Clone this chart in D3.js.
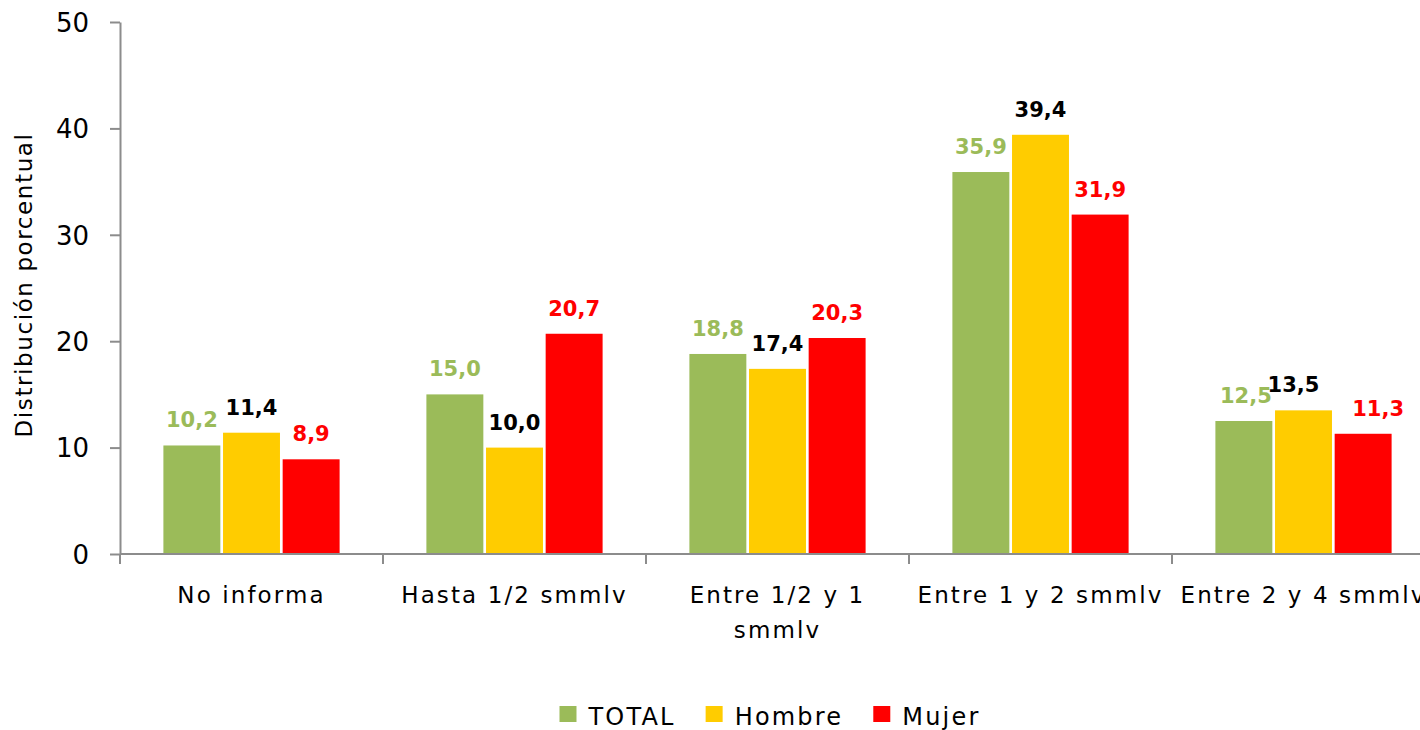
<!DOCTYPE html>
<html>
<head>
<meta charset="utf-8">
<script src="https://cdn.jsdelivr.net/npm/d3@7"></script>
<style>
  body { margin: 0; background: #fff; }
  svg { display: block; overflow: hidden; }
  text { font-family: "DejaVu Sans", Verdana, sans-serif; }
</style>
</head>
<body>
<div id="chart"></div>
<script>
// data
var categories = ["No informa", "Hasta 1/2 smmlv", "Entre 1/2 y 1 smmlv", "Entre 1 y 2 smmlv", "Entre 2 y 4 smmlv"];
var seriesNames = ["TOTAL", "Hombre", "Mujer"];
var totalValues = [10.2, 15.0, 18.8, 35.9, 12.5];
var hombreValues = [11.4, 10.0, 17.4, 39.4, 13.5];
var mujerValues = [8.9, 20.7, 20.3, 31.9, 11.3];
var yTicks = [0, 10, 20, 30, 40, 50];

var barColors = ["#9BBB59", "#FFCC00", "#FF0000"];
var labelColors = ["#9BBB59", "#000000", "#FF0000"];

var W = 1420, H = 730;
var plotLeft = 120, plotTop = 22, plotBottom = 554;
var step = 263;

var svg = d3.select("#chart")
    .append("svg")
    .attr("width", W)
    .attr("height", H);

var values = [totalValues, hombreValues, mujerValues];

// category scale: outer padding is half the inner one so band edges land on the ticks
var x = d3.scaleBand()
    .domain(categories)
    .range([plotLeft, plotLeft + step * categories.length])
    .paddingInner(0.33)
    .paddingOuter(0.165);

var xs = d3.scaleBand()
    .domain(seriesNames)
    .range([0, x.bandwidth()])
    .paddingInner(0.045);

var y = d3.scaleLinear()
    .domain([0, 50])
    .range([plotBottom, plotTop]);

// Y axis
var yAxis = svg.append("g")
    .attr("transform", "translate(" + plotLeft + ",0)")
    .call(d3.axisLeft(y).tickValues(yTicks).tickSize(10).tickPadding(21).tickSizeOuter(0));
yAxis.select(".domain").attr("stroke", "#8c8c8c").attr("stroke-width", 2);
yAxis.selectAll(".tick line").attr("stroke", "#8c8c8c").attr("stroke-width", 2);
yAxis.selectAll(".tick text")
    .attr("fill", "#000")
    .style("font-size", "26px")
    .attr("dy", "0.36em");

// Y axis title
svg.append("text")
    .attr("transform", "translate(32," + 285 + ") rotate(-90)")
    .attr("text-anchor", "middle")
    .style("font-size", "23px")
    .style("letter-spacing", "1.6px")
    .attr("fill", "#000")
    .text("Distribución porcentual");

// bars
var groups = svg.selectAll(".group")
    .data(categories)
    .enter()
    .append("g")
    .attr("class", "group")
    .attr("transform", function (c) { return "translate(" + x(c) + ",0)"; });

function rows(c, i) {
    return seriesNames.map(function (s, j) { return { s: s, j: j, i: i, v: values[j][i] }; });
}

groups.selectAll("rect")
    .data(rows)
    .enter()
    .append("rect")
    .attr("x", function (d) { return xs(d.s); })
    .attr("y", function (d) { return y(d.v); })
    .attr("width", xs.bandwidth())
    .attr("height", function (d) { return y(0) - y(d.v); })
    .attr("fill", function (d) { return barColors[d.j]; });

// small hand nudges where the original labels were moved off-centre
var nudge = { "4-1": -10, "4-2": 15, "4-0": 2 };

groups.selectAll(".val")
    .data(rows)
    .enter()
    .append("text")
    .attr("class", "val")
    .attr("x", function (d) { return xs(d.s) + xs.bandwidth() / 2 + (nudge[d.i + "-" + d.j] || 0); })
    .attr("y", function (d) { return y(d.v) - 18; })
    .attr("text-anchor", "middle")
    .style("font-size", "21px")
    .style("font-weight", "bold")
    .attr("fill", function (d) { return labelColors[d.j]; })
    .text(function (d) { return d.v.toFixed(1).replace(".", ","); });

// X axis line and boundary ticks
svg.append("line")
    .attr("x1", plotLeft).attr("x2", W)
    .attr("y1", y(0)).attr("y2", y(0))
    .attr("stroke", "#8c8c8c")
    .attr("stroke-width", 2);

svg.selectAll(".xtick")
    .data(categories)
    .enter()
    .append("line")
    .attr("class", "xtick")
    .attr("x1", function (c, i) { return x.range()[0] + i * x.step(); })
    .attr("x2", function (c, i) { return x.range()[0] + i * x.step(); })
    .attr("y1", y(0))
    .attr("y2", y(0) + 10)
    .attr("stroke", "#8c8c8c")
    .attr("stroke-width", 2);

// category labels, wrapped when wider than a band
var catLabels = svg.selectAll(".cat")
    .data(categories)
    .enter()
    .append("text")
    .attr("class", "cat")
    .attr("x", function (c) { return x(c) + x.bandwidth() / 2; })
    .attr("y", 603)
    .attr("text-anchor", "middle")
    .style("font-size", "23px")
    .style("letter-spacing", "2.1px")
    .attr("fill", "#000")
    .text(function (c) { return c; });

catLabels.each(function (c, i) {
    var t = d3.select(this);
    if (this.getComputedTextLength() <= 258 || i === categories.length - 1) return;
    var words = c.split(" ");
    t.text(null);
    var line = [];
    var ts = t.append("tspan").attr("x", t.attr("x"));
    words.forEach(function (w) {
        line.push(w);
        ts.text(line.join(" "));
        if (ts.node().getComputedTextLength() > 258 && line.length > 1) {
            line.pop();
            ts.text(line.join(" "));
            line = [w];
            ts = t.append("tspan").attr("x", t.attr("x")).attr("dy", 35).text(w);
        }
    });
});

// legend
var legend = svg.append("g");
var lx = 0;
seriesNames.forEach(function (s, j) {
    var item = legend.append("g").attr("transform", "translate(" + lx + ",0)");
    item.append("rect")
        .attr("x", 0).attr("y", 706)
        .attr("width", 17).attr("height", 16)
        .attr("fill", barColors[j]);
    var tx = item.append("text")
        .attr("x", 29).attr("y", 725)
        .style("font-size", "24px")
        .style("letter-spacing", "2.2px")
        .attr("fill", "#000")
        .text(s);
    lx += 29 + tx.node().getComputedTextLength() + 30;
});
var legendWidth = lx - 30;
legend.attr("transform", "translate(" + (770 - legendWidth / 2) + ",0)");
</script>
</body>
</html>
